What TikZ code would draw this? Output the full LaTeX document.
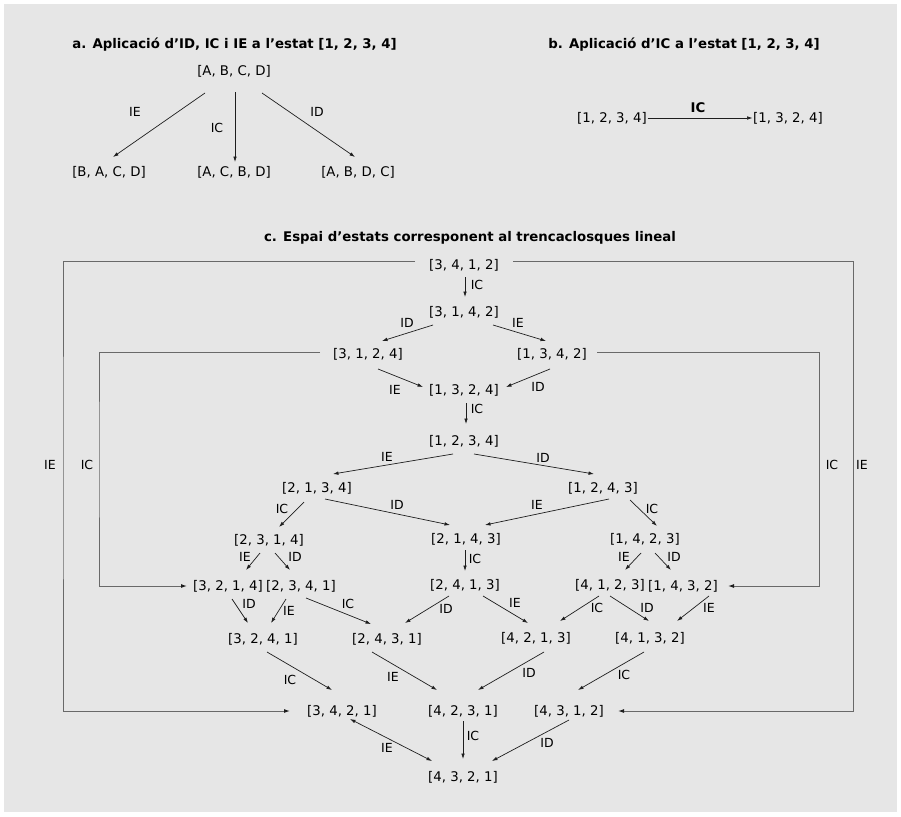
\documentclass[tikz,border=0pt]{standalone}
\usepackage{fontspec}
\setmainfont{DejaVu Sans}
\usetikzlibrary{calc,arrows.meta}
\definecolor{bgc}{RGB}{230,230,230}
\definecolor{linec}{RGB}{30,30,30}
\definecolor{routec}{RGB}{105,105,105}
\begin{document}
\begin{tikzpicture}[x=1pt,y=-1pt,
  st/.style={inner sep=0pt, font=\fontsize{13.3}{15}\selectfont},
  lbl/.style={inner sep=0pt, font=\fontsize{12.5}{14}\selectfont},
  ttl/.style={inner sep=0pt, font=\fontsize{13.3}{15}\selectfont\bfseries},
  arr/.style={-{Latex[length=5.5pt,width=3.6pt]}, line width=0.7pt, draw=linec},
  darr/.style={{Latex[length=5.5pt,width=3.6pt]}-{Latex[length=5.5pt,width=3.6pt]}, line width=0.7pt, draw=linec},
  route/.style={line width=1pt, draw=routec},
  rarr/.style={route, -{Latex[length=6pt,width=4pt,color=linec]}}]
\useasboundingbox (0,0) rectangle (901,816);
\fill[white] (0,0) rectangle (901,816);
\fill[bgc] (4,4) rectangle (897,812);

% ---------- part a ----------
\node[ttl] (ta) at (234.5,45) {a. Aplicació d’ID, IC i IE a l’estat [1, 2, 3, 4]};
\node[st] (nABCD) at (234,71) {[A, B, C, D]};
\node[st] (nBACD) at (109,172) {[B, A, C, D]};
\node[st] (nACBD) at (234,172) {[A, C, B, D]};
\node[st] (nABDC) at (358,172) {[A, B, D, C]};
\draw[arr] ($(nABCD)+(-29,22)$) -- ($(nBACD)+(4,-15)$);
\draw[arr] ($(nABCD)+(1,21)$) -- ($(nACBD)+(1,-10)$);
\draw[arr] ($(nABCD)+(28,22)$) -- ($(nABDC)+(-3,-15)$);
\node[lbl] (la1) at (135,112) {IE};
\node[lbl] (la2) at (217,128) {IC};
\node[lbl] (la3) at (317,112) {ID};

% ---------- part b ----------
\node[ttl] (tb) at (684,45) {b. Aplicació d’IC a l’estat [1, 2, 3, 4]};
\node[st, inner sep=0.5pt] (b1234) at (612,118) {[1, 2, 3, 4]};
\node[st, inner sep=0.5pt] (b1324) at (788,118) {[1, 3, 2, 4]};
\draw[arr] (b1234.east) -- (b1324.west);
\node[ttl] (lb1) at (698,108) {IC};

% ---------- part c ----------
\node[ttl] (tc) at (470,238) {c. Espai d’estats corresponent al trencaclosques lineal};
\node[st] (c3412) at (464,265) {[3, 4, 1, 2]};
\node[st] (c3142) at (464,312) {[3, 1, 4, 2]};
\node[st] (c3124) at (368,354) {[3, 1, 2, 4]};
\node[st] (c1342) at (552,354) {[1, 3, 4, 2]};
\node[st] (c1324) at (464,390) {[1, 3, 2, 4]};
\node[st] (c1234) at (464,441) {[1, 2, 3, 4]};
\node[st] (c2134) at (317,488) {[2, 1, 3, 4]};
\node[st] (c1243) at (603,488) {[1, 2, 4, 3]};
\node[st] (c2314) at (269,540) {[2, 3, 1, 4]};
\node[st] (c2143) at (466,539) {[2, 1, 4, 3]};
\node[st] (c1423) at (645,539) {[1, 4, 2, 3]};
\node[st] (c3214) at (228,586) {[3, 2, 1, 4]};
\node[st] (c2341) at (301,586) {[2, 3, 4, 1]};
\node[st] (c2413) at (465,585) {[2, 4, 1, 3]};
\node[st] (c4123) at (610,585) {[4, 1, 2, 3]};
\node[st] (c1432) at (683,586) {[1, 4, 3, 2]};
\node[st] (c3241) at (263,639) {[3, 2, 4, 1]};
\node[st] (c2431) at (387,639) {[2, 4, 3, 1]};
\node[st] (c4213) at (536,638) {[4, 2, 1, 3]};
\node[st] (c4132) at (650,638) {[4, 1, 3, 2]};
\node[st] (c3421) at (342,711) {[3, 4, 2, 1]};
\node[st] (c4231) at (463,711) {[4, 2, 3, 1]};
\node[st] (c4312) at (569,711) {[4, 3, 1, 2]};
\node[st] (c4321) at (463,777) {[4, 3, 2, 1]};

% routing lines
\draw[rarr] ($(c3412)+(-49,-4)$) -| (63,450) |- ($(c3421)+(-52,0)$);
\draw[rarr] ($(c3412)+(49,-4)$) -| (853,450) |- ($(c4312)+(49,0)$);
\draw[rarr] ($(c3124)+(-48,-2)$) -| (99,450) |- ($(c3214)+(-41,0)$);
\draw[rarr] ($(c1342)+(45,-2)$) -| (819,450) |- ($(c1432)+(45,0)$);
\node[lbl] (lr1) at (50,465) {IE};
\node[lbl] (lr2) at (87,465) {IC};
\node[lbl] (lr3) at (832,465) {IC};
\node[lbl] (lr4) at (862,465) {IE};

% arrows
\draw[arr] ($(c3412)+(1,12)$) -- ($(c3142)+(1,-15)$);
\node[lbl] at (477,285) {IC};
\draw[arr] ($(c3142)+(-31,13)$) -- ($(c3124)+(14,-13)$);
\node[lbl] at (407,323) {ID};
\draw[arr] ($(c3142)+(29,13)$) -- ($(c1342)+(-6,-13)$);
\node[lbl] at (518,323) {IE};
\draw[arr] ($(c3124)+(10,15)$) -- ($(c1324)+(-41,-3)$);
\node[lbl] at (395,390) {IE};
\draw[arr] ($(c1342)+(-2,15)$) -- ($(c1324)+(42,-3)$);
\node[lbl] at (538,387) {ID};
\draw[arr] ($(c1324)+(2,13)$) -- ($(c1234)+(2,-17)$);
\node[lbl] at (477,409) {IC};
\draw[arr] ($(c1234)+(-11,13)$) -- ($(c2134)+(16,-14)$);
\node[lbl] at (387,457) {IE};
\draw[arr] ($(c1234)+(10,13)$) -- ($(c1243)+(-9,-14)$);
\node[lbl] at (543,458) {ID};
\draw[arr] ($(c2134)+(8,11)$) -- ($(c2143)+(-16,-14)$);
\node[lbl] at (397,505) {ID};
\draw[arr] ($(c1243)+(6,11)$) -- ($(c2143)+(19,-14)$);
\node[lbl] at (537,505) {IE};
\draw[arr] ($(c2134)+(-13,14)$) -- ($(c2314)+(10,-13)$);
\node[lbl] at (282,509) {IC};
\draw[arr] ($(c1243)+(27,12)$) -- ($(c1423)+(12,-13)$);
\node[lbl] at (652,509) {IC};
\draw[arr] ($(c2314)+(-9,13)$) -- ($(c3214)+(18,-16)$);
\node[lbl] at (245,557) {IE};
\draw[arr] ($(c2314)+(6,13)$) -- ($(c2341)+(-11,-16)$);
\node[lbl] at (295,557) {ID};
\draw[arr] ($(c2143)+(-1,11)$) -- ($(c2413)+(0,-14)$);
\node[lbl] at (475,559) {IC};
\draw[arr] ($(c1423)+(-4,14)$) -- ($(c4123)+(15,-15)$);
\node[lbl] at (624,557) {IE};
\draw[arr] ($(c1423)+(10,14)$) -- ($(c1432)+(-12,-16)$);
\node[lbl] at (674,557) {ID};
\draw[arr] ($(c3214)+(4,13)$) -- ($(c3241)+(-15,-16)$);
\node[lbl] at (249,604) {ID};
\draw[arr] ($(c2341)+(-15,13)$) -- ($(c3241)+(8,-16)$);
\node[lbl] at (289,611) {IE};
\draw[arr] ($(c2341)+(5,12)$) -- ($(c2431)+(-16,-15)$);
\node[lbl] at (348,604) {IC};
\draw[arr] ($(c2413)+(-16,11)$) -- ($(c2431)+(18,-16)$);
\node[lbl] at (446,609) {ID};
\draw[arr] ($(c2413)+(18,11)$) -- ($(c4213)+(-8,-15)$);
\node[lbl] at (515,603) {IE};
\draw[arr] ($(c4123)+(-11,11)$) -- ($(c4213)+(24,-17)$);
\node[lbl] at (597,608) {IC};
\draw[arr] ($(c4123)+(0,11)$) -- ($(c4132)+(-1,-17)$);
\node[lbl] at (647,608) {ID};
\draw[arr] ($(c1432)+(26,10)$) -- ($(c4132)+(27,-17)$);
\node[lbl] at (709,608) {IE};
\draw[arr] ($(c3241)+(4,13)$) -- ($(c3421)+(-10,-21)$);
\node[lbl] at (290,680) {IC};
\draw[arr] ($(c2431)+(-15,13)$) -- ($(c4231)+(-26,-21)$);
\node[lbl] at (393,677) {IE};
\draw[arr] ($(c4213)+(8,14)$) -- ($(c4231)+(15,-21)$);
\node[lbl] at (529,673) {ID};
\draw[arr] ($(c4132)+(-6,14)$) -- ($(c4312)+(9,-21)$);
\node[lbl] at (624,675) {IC};
\draw[arr] ($(c4231)+(0,10)$) -- ($(c4321)+(0,-18)$);
\node[lbl] at (473,736) {IC};
\draw[arr] ($(c4312)+(0,9)$) -- ($(c4321)+(29,-16)$);
\node[lbl] at (547,743) {ID};
\draw[darr] ($(c3421)+(8,8)$) -- ($(c4321)+(-31,-16)$);
\node[lbl] at (387,748) {IE};
\end{tikzpicture}
\end{document}
